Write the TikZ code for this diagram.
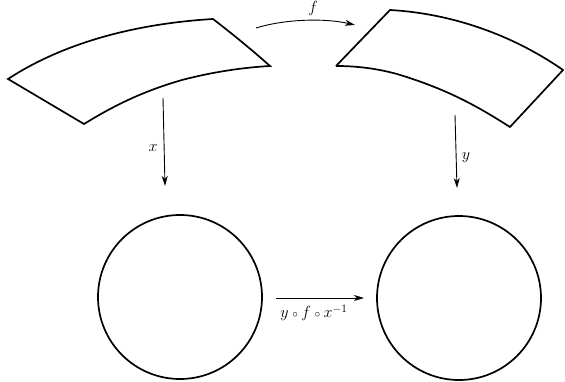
\documentclass[tikz,border=0pt]{standalone}
\usetikzlibrary{arrows.meta}
\begin{document}
\begin{tikzpicture}[x=1pt,y=-1pt,
  shape line/.style={line width=1.7pt,line join=miter},
  map/.style={line width=0.9pt,-{Stealth[length=10pt,width=6pt,inset=3pt]}},
  lbl/.style={font=\fontsize{14.4}{17}\selectfont,transform shape,scale=1.12},
  disk/.style={circle,draw,line width=1.7pt,minimum size=164pt,inner sep=0pt}]
\useasboundingbox (0,0) rectangle (565,382);
% left patch
\draw[shape line] (8,79) .. controls (60,45) and (130,24) .. (213,19)
  .. controls (235,36) and (252,50) .. (270,66)
  .. controls (235,68) and (205,74) .. (182,80)
  .. controls (140,92) and (110,108) .. (84,124) -- cycle;
% right patch
\draw[shape line] (336,66) -- (390,10)
  .. controls (460,14) and (520,40) .. (563,70)
  -- (510,127)
  .. controls (480,108) and (450,90) .. (397,74)
  .. controls (375,68) and (355,66) .. (336,66);
% disks
\node[disk] (L) at (180,297) {};
\node[disk] (R) at (459,298) {};
% arrow endpoints
\coordinate (fa) at (256,28);
\coordinate (fb) at (355,25);
\coordinate (xa) at (163,98);
\coordinate (xb) at (165,186);
\coordinate (ya) at (455,115);
\coordinate (yb) at (457,188);
\coordinate (ga) at (276,298);
\coordinate (gb) at (364,298);
\draw[map] (fa) .. controls (285,19) and (325,18) .. (fb);
\draw[map] (xa) -- (xb);
\draw[map] (ya) -- (yb);
\draw[map] (ga) -- (gb);
\node[lbl] (lf) at (313,8) {$f$};
\node[lbl] (lx) at (153,148) {$x$};
\node[lbl] (ly) at (466,158) {$y$};
\node[lbl] (lg) at (314,313) {$y\mathbin{\scriptstyle\circ}f\mathbin{\scriptstyle\circ}x^{-1}$};
\end{tikzpicture}
\end{document}
